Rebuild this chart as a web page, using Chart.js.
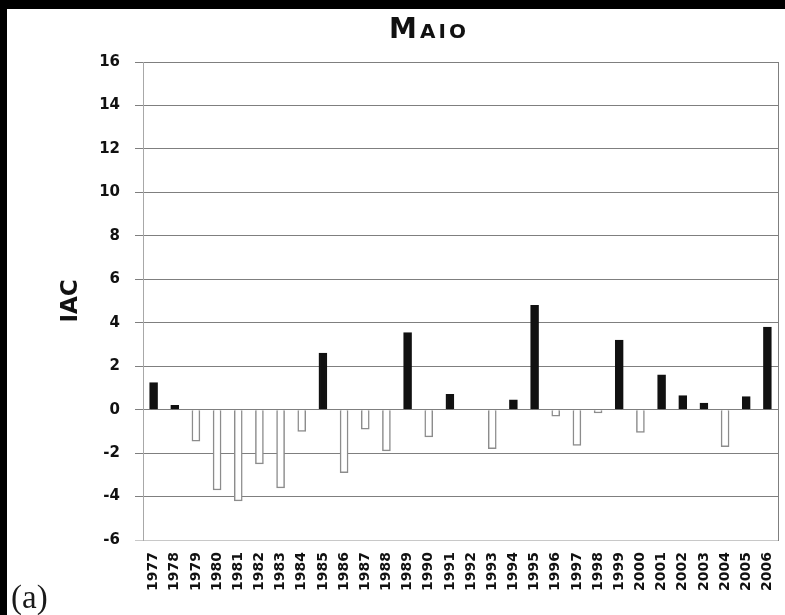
<!DOCTYPE html>
<html>
<head>
<meta charset="utf-8">
<script src="https://cdn.jsdelivr.net/npm/chart.js@4/dist/chart.umd.min.js"></script>
<style>
  html, body { margin: 0; padding: 0; background: #000; }
  body { width: 785px; height: 615px; position: relative; overflow: hidden; }
  #panel { position: absolute; left: 7px; top: 9px; width: 778px; height: 606px; background: #fff; }
  #chart { position: absolute; left: 0; top: 0; }
  #title {
    position: absolute; left: 322px; top: 3px; width: 200px; text-align: center;
    font-family: "DejaVu Sans", sans-serif; font-weight: bold; font-size: 28px;
    font-variant: small-caps; letter-spacing: 3px; color: #111;
  }
  #tag {
    position: absolute; left: 4px; top: 570px;
    font-family: "Liberation Serif", serif; font-size: 33px; color: #1a1a1a;
  }
</style>
</head>
<body>
<div id="panel">
  <canvas id="chart" width="778" height="606"></canvas>
  <div id="title">Maio</div>
  <div id="tag">(a)</div>
</div>
<script>
// anos e valores de IAC (maio)
const years = ['1977','1978','1979','1980','1981','1982','1983','1984','1985','1986',
               '1987','1988','1989','1990','1991','1992','1993','1994','1995','1996',
               '1997','1998','1999','2000','2001','2002','2003','2004','2005','2006'];
const iac = [1.25, 0.2, -1.45, -3.7, -4.2, -2.5, -3.6, -1.0, 2.6, -2.9,
             -0.9, -1.9, 3.55, -1.25, 0.7, 0, -1.8, 0.45, 4.8, -0.3,
             -1.65, -0.15, 3.2, -1.05, 1.6, 0.65, 0.3, -1.7, 0.6, 3.8];
const yTicks = [-6, -4, -2, 0, 2, 4, 6, 8, 10, 12, 14, 16];

const tickFont = { family: 'DejaVu Sans', weight: 'bold', size: 15 };

new Chart(document.getElementById('chart'), {
  type: 'bar',
  data: {
    labels: years,
    datasets: [{
      label: 'IAC',
      data: iac,
      backgroundColor: iac.map(v => v >= 0 ? '#111' : '#fff'),
      borderColor: iac.map(v => v >= 0 ? '#111' : '#8c8c8c'),
      borderWidth: 1.5,
      barThickness: 8,
    }],
  },
  options: {
    responsive: false,
    animation: false,
    devicePixelRatio: 1,
    layout: { padding: { top: 53, left: 0, right: 0, bottom: 0 } },
    plugins: {
      legend: { display: false },
      tooltip: { enabled: false },
    },
    scales: {
      x: {
        grid: { display: false },
        border: { display: false },
        ticks: {
          color: '#111',
          font: { family: 'DejaVu Sans', weight: 'bold', size: 14 },
          minRotation: 90,
          maxRotation: 90,
          padding: 4,
          autoSkip: false,
        },
        afterFit: (scale) => {
          scale.height = 75;
          scale.paddingLeft = 0;
          scale.paddingRight = 0;
        },
      },
      y: {
        min: -6,
        max: 16,
        afterBuildTicks: (scale) => { scale.ticks = yTicks.map(v => ({ value: v })); },
        grid: {
          color: (ctx) => ctx.tick && ctx.tick.value === -6 ? '#c8c8c8' : '#7f7f7f',
          lineWidth: 1,
          tickLength: 8,
        },
        border: { color: '#a8a8a8' },
        ticks: { color: '#111', font: tickFont, padding: 15 },
        title: {
          display: true,
          text: 'IAC',
          color: '#111',
          font: { family: 'DejaVu Sans', weight: 'bold', size: 23 },
          padding: { top: 50, bottom: 0 },
        },
        afterFit: (scale) => { scale.width = 136; },
      },
      y2: {
        position: 'right',
        min: -6,
        max: 16,
        grid: { display: false },
        ticks: { display: false },
        border: { display: true, color: '#7f7f7f' },
        afterFit: (scale) => { scale.width = 7; },
      },
    },
  },
});
</script>
</body>
</html>
